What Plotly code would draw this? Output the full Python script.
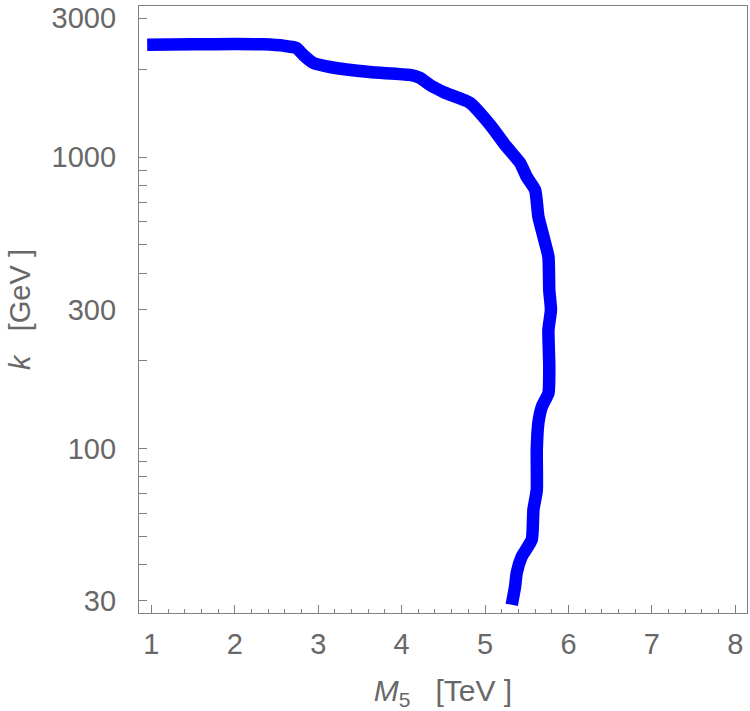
import plotly.graph_objects as go

# Data
m5_tev = [0.95, 1.5, 2.0, 2.34, 2.60, 2.74, 2.82, 2.94, 3.14, 3.62, 4.10, 4.22, 4.34, 4.52,
          4.82, 5.06, 5.24, 5.42, 5.50, 5.60, 5.64, 5.72, 5.76, 5.77, 5.79, 5.76, 5.77,
          5.76, 5.68, 5.64, 5.62, 5.62, 5.58, 5.56, 5.44, 5.38, 5.36, 5.32]
k_gev = [2430, 2440, 2445, 2440, 2410, 2371, 2244, 2106, 2040, 1960, 1916, 1871, 1770, 1665,
         1537, 1292, 1102, 956, 856, 772, 624, 508, 455, 350, 299, 256, 191,
         155, 139, 123, 99, 72, 61.7, 48.7, 42.6, 37.5, 33.6, 29.1]

x_ticks = [1, 2, 3, 4, 5, 6, 7, 8]
y_ticks = [30, 100, 300, 1000, 3000]
y_tick_labels = ["30", "100", "300", "1000", "3000"]
y_minor = [40, 50, 60, 70, 80, 90, 200, 400, 500, 600, 700, 800, 900, 2000]

axis_col = "#808080"
text_col = "#686868"
font_fam = "Liberation Sans, Arial, sans-serif"

fig = go.Figure()
fig.add_trace(go.Scatter(x=m5_tev, y=k_gev, mode="lines",
                         line=dict(color="#0000FF", width=12.5, shape="spline", smoothing=0.5),
                         showlegend=False, hoverinfo="skip"))

fig.update_layout(
    width=750, height=711,
    margin=dict(l=139, r=3, t=6, b=98),
    paper_bgcolor="white", plot_bgcolor="white",
    font=dict(family=font_fam, color=text_col, size=29),
    xaxis=dict(
        range=[0.852, 8.14], showgrid=False, zeroline=False,
        showline=True, linecolor=axis_col, linewidth=1.3, mirror=True,
        ticks="inside", ticklen=8, tickcolor=axis_col, tickwidth=1,
        tickmode="array", tickvals=x_ticks, ticktext=[str(v) for v in x_ticks],
        tickfont=dict(size=29, color=text_col),
        ticklabelstandoff=5,
        minor=dict(ticks="inside", ticklen=4, tickcolor=axis_col, dtick=0.2, showgrid=False),
        title=dict(text="<i>M</i><sub>5</sub>   [TeV ]", standoff=21,
                   font=dict(size=30, color=text_col)),
    ),
    yaxis=dict(
        type="log", range=[1.4357, 3.519], showgrid=False, zeroline=False,
        showline=True, linecolor=axis_col, linewidth=1.3, mirror=True,
        ticks="inside", ticklen=8, tickcolor=axis_col, tickwidth=1,
        tickmode="array", tickvals=y_ticks, ticktext=y_tick_labels,
        tickfont=dict(size=29, color=text_col),
        ticklabelstandoff=16,
        minor=dict(ticks="inside", ticklen=8, tickcolor=axis_col,
                   tickmode="array", tickvals=y_minor, showgrid=False),
        title=dict(text="<i>k</i>   [GeV ]", standoff=12,
                   font=dict(size=29, color=text_col)),
    ),
)

fig.write_html("out.html")
